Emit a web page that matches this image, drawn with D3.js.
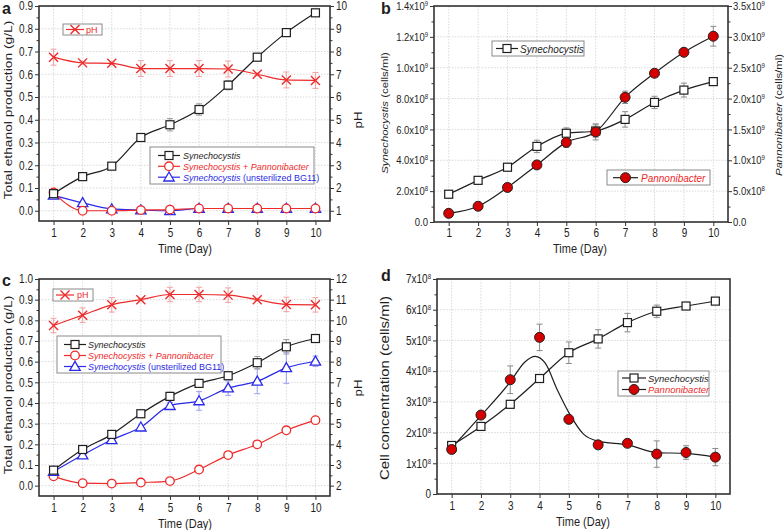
<!DOCTYPE html>
<html><head><meta charset="utf-8">
<script src="https://cdn.jsdelivr.net/npm/d3@7"></script>
<style>
html,body{margin:0;padding:0;background:#fff;}
svg{display:block;font-family:"Liberation Sans",Arial,Helvetica,sans-serif;}
</style></head><body>
<svg id="chart" width="784" height="530"></svg>
<script>
// ---------------- DATA ----------------
const days = [1,2,3,4,5,6,7,8,9,10];

// Panel a : ethanol (g/L) and pH
const aSyn      = [0.075,0.150,0.196,0.322,0.378,0.445,0.552,0.675,0.783,0.870];
const aSynErr   = [0.005,0.006,0.012,0.010,0.027,0.025,0.020,0.008,0.008,0.008];
const aSynPan   = [0.080,0.000,0.000,0.003,0.005,0.010,0.010,0.010,0.010,0.010];
const aSynBG    = [0.068,0.035,0.008,0.003,0.000,0.010,0.010,0.010,0.010,0.010];
const aPH       = [7.75,7.50,7.48,7.25,7.25,7.25,7.23,7.00,6.75,6.73];
const aPHErr    = [0.35,0.05,0.05,0.35,0.35,0.35,0.35,0.05,0.35,0.35];

// Panel b : cell counts (cells/ml)
const bSyn      = [1.80e8,2.70e8,3.55e8,4.90e8,5.75e8,5.90e8,6.65e8,7.75e8,8.55e8,9.10e8];
const bSynErr   = [0.10e8,0.10e8,0.10e8,0.40e8,0.35e8,0.40e8,0.50e8,0.40e8,0.45e8,0.15e8];
const bPan      = [0.14e9,0.255e9,0.56e9,0.925e9,1.29e9,1.46e9,2.02e9,2.41e9,2.75e9,3.01e9];
const bPanErr   = [0.02e9,0.02e9,0.03e9,0.03e9,0.08e9,0.13e9,0.10e9,0.03e9,0.05e9,0.16e9];

// Panel c : ethanol (g/L) and pH
const cSyn      = [0.075,0.175,0.248,0.348,0.432,0.495,0.532,0.595,0.672,0.712];
const cSynErr   = [0.008,0.008,0.010,0.010,0.020,0.010,0.010,0.030,0.035,0.010];
const cSynBG    = [0.068,0.148,0.222,0.283,0.387,0.410,0.472,0.505,0.570,0.602];
const cSynBGErr = [0.005,0.005,0.010,0.010,0.015,0.045,0.035,0.060,0.075,0.025];
const cSynPan   = [0.045,0.012,0.010,0.015,0.022,0.078,0.148,0.200,0.268,0.317];
const cPH       = [9.75,10.25,10.75,11.00,11.25,11.25,11.22,11.00,10.77,10.75];
const cPHErr    = [0.35,0.35,0.35,0.05,0.35,0.35,0.35,0.05,0.35,0.35];

// Panel d : cell concentration (cells/ml)
const dSyn      = [1.58e8,2.20e8,2.92e8,3.76e8,4.60e8,5.05e8,5.58e8,5.95e8,6.12e8,6.28e8];
const dSynErr   = [0.02e8,0.02e8,0.02e8,0.02e8,0.35e8,0.30e8,0.30e8,0.20e8,0.05e8,0.02e8];
const dPan      = [1.45e8,2.57e8,3.72e8,5.10e8,2.43e8,1.60e8,1.65e8,1.30e8,1.35e8,1.20e8];
const dPanErr   = [0,0,0.45e8,0.43e8,0,0,0,0.43e8,0.22e8,0.28e8];
// fitted curve drawn through Pannonibacter data
const dPanFitDays = [1,2,3,3.5,3.85,4.2,4.6,5,5.5,6,7,8,9,10];
const dPanFit     = [1.5e8,2.55e8,3.65e8,4.3e8,4.48e8,4.25e8,3.4e8,2.65e8,1.95e8,1.72e8,1.6e8,1.35e8,1.32e8,1.2e8];

// Tick values / labels
const aYTicks  = [0,0.1,0.2,0.3,0.4,0.5,0.6,0.7,0.8,0.9];
const aPHTicks = [1,2,3,4,5,6,7,8,9,10];
const cYTicks  = [0,0.1,0.2,0.3,0.4,0.5,0.6,0.7,0.8,0.9,1.0];
const cPHTicks = [2,3,4,5,6,7,8,9,10,11,12];
const bLeftTicks  = [0,2e8,4e8,6e8,8e8,1.0e9,1.2e9,1.4e9];
const bLeftLabels = ["0.0","2.0x10^8","4.0x10^8","6.0x10^8","8.0x10^8","1.0x10^9","1.2x10^9","1.4x10^9"];
const bRightTicks = [0,5e8,1.0e9,1.5e9,2.0e9,2.5e9,3.0e9,3.5e9];
const bRightLabels= ["0.0","5.0x10^8","1.0x10^9","1.5x10^9","2.0x10^9","2.5x10^9","3.0x10^9","3.5x10^9"];
const dTicks  = [0,1e8,2e8,3e8,4e8,5e8,6e8,7e8];
const dLabels = ["0","1x10^8","2x10^8","3x10^8","4x10^8","5x10^8","6x10^8","7x10^8"];

// ---------------- STYLE ----------------
const SY = 1.2;             // vertical text stretch (figure is stretched)
const RED = "#ee2a2a", BLUE = "#2a2ae8", BLK = "#1e1e1e";
const FILLRED = "#d40000";
const svg = d3.select("#chart");

function addText(parent, o) {
  const rot = o.rot || 0;
  const sy = o.sy == null ? SY : o.sy;
  const tr = `translate(${o.x},${o.y})` + (rot ? ` rotate(${rot}) scale(${sy},1)` : ` scale(1,${sy})`);
  const t = parent.append("text").attr("transform", tr)
    .attr("font-size", o.size).attr("text-anchor", o.anchor || "start")
    .attr("fill", o.fill || BLK);
  if (o.weight) t.attr("font-weight", o.weight);
  o.parts.forEach((p, i) => {
    const s = t.append("tspan").text(p.t);
    if (i === 0) s.attr("dy", o.dy == null ? "0.35em" : o.dy);
    if (p.i) s.attr("font-style", "italic");
    if (p.c) s.attr("fill", p.c);
  });
  return t;
}

function supLabels(sel) {
  sel.selectAll(".tick text").each(function() {
    const t = d3.select(this);
    const s = t.text();
    if (s.indexOf("^") >= 0) {
      const [b, e] = s.split("^");
      t.text(b);
      t.append("tspan").text(e).attr("font-size", 6).attr("dy", "-0.55em");
    }
  });
}

function marker(g, type, x, y, color) {
  if (type === "square") {
    g.append("rect").attr("x", x-4).attr("y", y-4).attr("width", 8).attr("height", 8)
      .attr("fill", "#fff").attr("stroke", color).attr("stroke-width", 1.2);
  } else if (type === "circle") {
    g.append("circle").attr("cx", x).attr("cy", y).attr("r", 4.3)
      .attr("fill", "#fff").attr("stroke", color).attr("stroke-width", 1.3);
  } else if (type === "triangle") {
    g.append("path").attr("d", `M${x},${y-5.2}L${x-5.2},${y+3.8}L${x+5.2},${y+3.8}Z`)
      .attr("fill", "#fff").attr("stroke", color).attr("stroke-width", 1.3);
  } else if (type === "x") {
    g.append("path").attr("d", `M${x-4.5},${y-4.5}L${x+4.5},${y+4.5}M${x-4.5},${y+4.5}L${x+4.5},${y-4.5}`)
      .attr("fill", "none").attr("stroke", color).attr("stroke-width", 1.4);
  } else if (type === "dot") {
    g.append("circle").attr("cx", x).attr("cy", y).attr("r", 5)
      .attr("fill", FILLRED).attr("stroke", "#222").attr("stroke-width", 1);
  }
}

function series(g, x, y, vals, o) {
  const line = d3.line().x((d,i)=>x(days[i])).y(d=>y(d)).curve(d3.curveMonotoneX);
  if (!o.noLine)
    g.append("path").attr("d", line(vals)).attr("fill","none")
      .attr("stroke", o.color).attr("stroke-width", 1.2);
  if (o.err) {
    vals.forEach((v,i) => {
      const e = o.err[i]; if (!e) return;
      const xx = x(days[i]), y1 = y(v-e), y2 = y(v+e);
      g.append("path").attr("d", `M${xx},${y1}V${y2}M${xx-3},${y1}H${xx+3}M${xx-3},${y2}H${xx+3}`)
        .attr("fill","none").attr("stroke", o.errColor).attr("stroke-width", 1);
    });
  }
  vals.forEach((v,i) => marker(g, o.marker, x(days[i]), y(v), o.mcolor || o.color));
}

function legendBox(g, x0, y0, x1, y1) {
  g.append("rect").attr("x", x0).attr("y", y0).attr("width", x1-x0).attr("height", y1-y0)
    .attr("fill", "#fff").attr("stroke", "#8a8a8a").attr("stroke-width", 1);
}
function legendRow(g, lx1, lx2, tx, y, type, color, parts, lineColor, size, sy) {
  g.append("line").attr("x1", lx1).attr("x2", lx2).attr("y1", y).attr("y2", y)
    .attr("stroke", lineColor || color).attr("stroke-width", 1.2);
  marker(g, type, (lx1+lx2)/2, y, color);
  addText(g, {x: tx, y: y, size: size || 9, sy: sy, parts: parts, fill: color === FILLRED ? RED : (lineColor ? BLK : color)});
}

function frameAndGrid(g, x, y, L, R, T, B, yTicks) {
  const grid = g.append("g");
  days.forEach(d => grid.append("line").attr("x1", x(d)).attr("x2", x(d)).attr("y1", T).attr("y2", B));
  yTicks.forEach(v => grid.append("line").attr("x1", L).attr("x2", R).attr("y1", y(v)).attr("y2", y(v)));
  grid.selectAll("line").attr("stroke", "#cfcfcf").attr("stroke-width", 0.8).attr("stroke-dasharray", "1.5,1.5");
}
function frame(g, L, R, T, B) {
  g.append("rect").attr("x", L).attr("y", T).attr("width", R-L).attr("height", B-T)
    .attr("fill", "none").attr("stroke", "#333").attr("stroke-width", 1.6);
}

function styleAxis(ax, size) {
  ax.select(".domain").remove();
  ax.selectAll(".tick line").attr("stroke", "#333").attr("stroke-width", 1);
  ax.selectAll(".tick text").attr("font-size", size || 10).attr("fill", BLK);
  ax.attr("font-family", null).attr("font-size", null);
}
function stretchTicks(ax) {
  ax.selectAll(".tick text").attr("transform", `scale(1,${SY})`);
}
function minorTicks(g, axisFn, scale, vals, pos) {
  const ax = g.append("g").attr("transform", pos).call(axisFn(scale).tickValues(vals).tickSize(2.5).tickFormat(""));
  ax.select(".domain").remove();
  ax.selectAll(".tick line").attr("stroke", "#333");
}

function xAxis(g, x, B, tickY, titleY, titleX) {
  const ax = g.append("g").attr("transform", `translate(0,${B})`)
    .call(d3.axisBottom(x).tickValues(days).tickSize(4).tickPadding(1).tickFormat(d3.format("d")));
  styleAxis(ax, 10);
  ax.selectAll(".tick text").attr("y", null).attr("transform", `translate(0,${tickY-B}) scale(1,${SY})`).attr("dy", "0.35em");
  addText(g, {x: titleX, y: titleY, size: 11, anchor: "middle", parts: [{t: "Time (Day)"}]});
}
function halfSteps(ticks) {
  const r = [];
  for (let i = 0; i < ticks.length - 1; i++) r.push((ticks[i] + ticks[i+1]) / 2);
  return r;
}

// =============== PANEL A ===============
(function() {
  const L = 39, R = 330, T = 6, B = 221;
  const g = svg.append("g");
  const x = d3.scaleLinear().domain([0.5, 10.5]).range([L, R]);
  const y = d3.scaleLinear().domain([-0.045, 0.9]).range([B, T]);
  const yp = d3.scaleLinear().domain([0.55, 10]).range([B, T]);
  frameAndGrid(g, x, y, L, R, T, B, aYTicks);
  const ay = g.append("g").attr("transform", `translate(${L},0)`)
    .call(d3.axisLeft(y).tickValues(aYTicks).tickSize(4).tickPadding(2).tickFormat(d3.format(".1f")));
  styleAxis(ay, 10); stretchTicks(ay);
  minorTicks(g, d3.axisLeft, y, halfSteps(aYTicks), `translate(${L},0)`);
  const ap = g.append("g").attr("transform", `translate(${R},0)`)
    .call(d3.axisRight(yp).tickValues(aPHTicks).tickSize(4).tickPadding(2).tickFormat(d3.format("d")));
  styleAxis(ap, 10); stretchTicks(ap);
  minorTicks(g, d3.axisRight, yp, halfSteps(aPHTicks), `translate(${R},0)`);
  xAxis(g, x, B, 233, 248, 185);
  addText(g, {x: 8, y: 110, rot: -90, size: 11.5, anchor: "middle", parts: [{t: "Total ethanol production (g/L)"}]});
  addText(g, {x: 358, y: 120, rot: -90, size: 11, anchor: "middle", parts: [{t: "pH"}]});
  addText(g, {x: 2, y: 14, size: 16, weight: "bold", dy: 0, sy: 1, parts: [{t: "a"}]});

  series(g, x, y, aSynBG, {color: BLUE, marker: "triangle"});
  series(g, x, y, aSynPan, {color: RED, marker: "circle"});
  series(g, x, y, aSyn, {color: BLK, marker: "square", err: aSynErr, errColor: "#9a9a9a"});
  series(g, x, yp, aPH, {color: RED, marker: "x", err: aPHErr, errColor: "#f2a0a0"});
  frame(g, L, R, T, B);

  // legends
  legendBox(g, 63, 24, 102, 35);
  legendRow(g, 66, 84, 86, 29.5, "x", RED, [{t: "pH"}], null, 9, 1.1);
  legendBox(g, 150, 147, 314, 184);
  legendRow(g, 158, 180, 183, 155.5, "square", BLK, [{t: "Synechocystis", i: true}], null, 9, 1.1);
  legendRow(g, 158, 180, 183, 166.3, "circle", RED, [{t: "Synechocystis", i: true}, {t: " + "}, {t: "Pannonibacter", i: true}], null, 9, 1.1);
  legendRow(g, 158, 180, 183, 177.2, "triangle", BLUE, [{t: "Synechocystis", i: true}, {t: " (unsterilized BG11)"}], null, 9, 1.1);
})();

// =============== PANEL B ===============
(function() {
  const L = 434, R = 728, T = 6, B = 222;
  const g = svg.append("g");
  const x = d3.scaleLinear().domain([0.5, 10.5]).range([L, R]);
  const y = d3.scaleLinear().domain([0, 1.4e9]).range([B, T]);
  const yr = d3.scaleLinear().domain([0, 3.5e9]).range([B, T]);
  frameAndGrid(g, x, y, L, R, T, B, bLeftTicks);
  const ay = g.append("g").attr("transform", `translate(${L},0)`)
    .call(d3.axisLeft(y).tickValues(bLeftTicks).tickSize(4).tickPadding(2).tickFormat((d,i)=>bLeftLabels[i]));
  styleAxis(ay, 9.5); supLabels(ay); stretchTicks(ay);
  minorTicks(g, d3.axisLeft, y, halfSteps(bLeftTicks), `translate(${L},0)`);
  const ar = g.append("g").attr("transform", `translate(${R},0)`)
    .call(d3.axisRight(yr).tickValues(bRightTicks).tickSize(4).tickPadding(1).tickFormat((d,i)=>bRightLabels[i]));
  styleAxis(ar, 9.5); supLabels(ar); stretchTicks(ar);
  minorTicks(g, d3.axisRight, yr, halfSteps(bRightTicks), `translate(${R},0)`);
  xAxis(g, x, B, 233, 248, 580);
  addText(g, {x: 385, y: 113, rot: -90, size: 9.5, anchor: "middle", parts: [{t: "Synechocystis", i: true}, {t: " (cells/ml)"}]});
  addText(g, {x: 779, y: 115, rot: -90, size: 9.5, anchor: "middle", parts: [{t: "Pannonibacter", i: true}, {t: " (cells/ml)"}]});
  addText(g, {x: 381, y: 14, size: 16, weight: "bold", dy: 0, sy: 1, parts: [{t: "b"}]});

  series(g, x, y, bSyn, {color: BLK, marker: "square", err: bSynErr, errColor: "#8a8a8a"});
  series(g, x, yr, bPan, {color: BLK, marker: "dot", err: bPanErr, errColor: "#8a8a8a"});
  frame(g, L, R, T, B);

  legendBox(g, 492, 41, 584, 56);
  legendRow(g, 496, 518, 520, 48.5, "square", BLK, [{t: "Synechocystis", i: true}], null, 10, 1.15);
  legendBox(g, 607, 170, 710, 185);
  legendRow(g, 613, 638, 641, 177.7, "dot", FILLRED, [{t: "Pannonibacter", i: true}], BLK, 10, 1.15);
})();

// =============== PANEL C ===============
(function() {
  const L = 39, R = 330, T = 279, B = 496;
  const g = svg.append("g");
  const x = d3.scaleLinear().domain([0.5, 10.5]).range([L, R]);
  const y = d3.scaleLinear().domain([-0.05, 1.0]).range([B, T]);
  const yp = d3.scaleLinear().domain([1.5, 12]).range([B, T]);
  frameAndGrid(g, x, y, L, R, T, B, cYTicks);
  const ay = g.append("g").attr("transform", `translate(${L},0)`)
    .call(d3.axisLeft(y).tickValues(cYTicks).tickSize(4).tickPadding(2).tickFormat(d3.format(".1f")));
  styleAxis(ay, 10); stretchTicks(ay);
  minorTicks(g, d3.axisLeft, y, halfSteps(cYTicks), `translate(${L},0)`);
  const ap = g.append("g").attr("transform", `translate(${R},0)`)
    .call(d3.axisRight(yp).tickValues(cPHTicks).tickSize(4).tickPadding(2).tickFormat(d3.format("d")));
  styleAxis(ap, 10); stretchTicks(ap);
  minorTicks(g, d3.axisRight, yp, halfSteps(cPHTicks), `translate(${R},0)`);
  xAxis(g, x, B, 507.5, 523, 185);
  addText(g, {x: 8, y: 385, rot: -90, size: 11.5, anchor: "middle", parts: [{t: "Total ethanol production (g/L)"}]});
  addText(g, {x: 358, y: 388, rot: -90, size: 11, anchor: "middle", parts: [{t: "pH"}]});
  addText(g, {x: 2, y: 286, size: 16, weight: "bold", dy: 0, sy: 1, parts: [{t: "c"}]});

  series(g, x, y, cSynPan, {color: RED, marker: "circle"});
  series(g, x, y, cSynBG, {color: BLUE, marker: "triangle", err: cSynBGErr, errColor: "#9aa0ee"});
  series(g, x, y, cSyn, {color: BLK, marker: "square", err: cSynErr, errColor: "#9a9a9a"});
  series(g, x, yp, cPH, {color: RED, marker: "x", err: cPHErr, errColor: "#f2a0a0"});
  frame(g, L, R, T, B);

  legendBox(g, 53, 289, 93, 301);
  legendRow(g, 56, 74, 77, 295, "x", RED, [{t: "pH"}], null, 9, 1.1);
  legendBox(g, 57, 336, 221, 373);
  legendRow(g, 64, 86, 88, 344.5, "square", BLK, [{t: "Synechocystis", i: true}], null, 9, 1.1);
  legendRow(g, 64, 86, 88, 355.5, "circle", RED, [{t: "Synechocystis", i: true}, {t: " + "}, {t: "Pannonibacter", i: true}], null, 9, 1.1);
  legendRow(g, 64, 86, 88, 366.5, "triangle", BLUE, [{t: "Synechocystis", i: true}, {t: " (unsterilized BG11)"}], null, 9, 1.1);
})();

// =============== PANEL D ===============
(function() {
  const L = 437, R = 730, T = 279, B = 494;
  const g = svg.append("g");
  const x = d3.scaleLinear().domain([0.5, 10.5]).range([L, R]);
  const y = d3.scaleLinear().domain([0, 7e8]).range([B, T]);
  frameAndGrid(g, x, y, L, R, T, B, dTicks);
  const ay = g.append("g").attr("transform", `translate(${L},0)`)
    .call(d3.axisLeft(y).tickValues(dTicks).tickSize(4).tickPadding(2).tickFormat((d,i)=>dLabels[i]));
  styleAxis(ay, 10); supLabels(ay); stretchTicks(ay);
  minorTicks(g, d3.axisLeft, y, halfSteps(dTicks), `translate(${L},0)`);
  xAxis(g, x, B, 505.7, 521.7, 583);
  addText(g, {x: 385, y: 388, rot: -90, size: 12.5, anchor: "middle", parts: [{t: "Cell concentration (cells/ml)"}]});
  addText(g, {x: 381, y: 281, size: 16, weight: "bold", dy: 0, sy: 1, parts: [{t: "d"}]});

  const fit = d3.line().x((d,i)=>x(dPanFitDays[i])).y(d=>y(d)).curve(d3.curveMonotoneX);
  g.append("path").attr("d", fit(dPanFit)).attr("fill", "none").attr("stroke", BLK).attr("stroke-width", 1.2);
  series(g, x, y, dSyn, {color: BLK, marker: "square", err: dSynErr, errColor: "#8a8a8a"});
  series(g, x, y, dPan, {color: BLK, marker: "dot", err: dPanErr, errColor: "#8a8a8a", noLine: true});
  frame(g, L, R, T, B);

  legendBox(g, 618, 371, 709, 396);
  legendRow(g, 622, 646, 648, 378, "square", BLK, [{t: "Synechocystis", i: true}], null, 9.5, 1.05);
  legendRow(g, 622, 646, 648, 389.5, "dot", FILLRED, [{t: "Pannonibacter", i: true}], BLK, 9.5, 1.05);
})();
</script>
</body></html>
